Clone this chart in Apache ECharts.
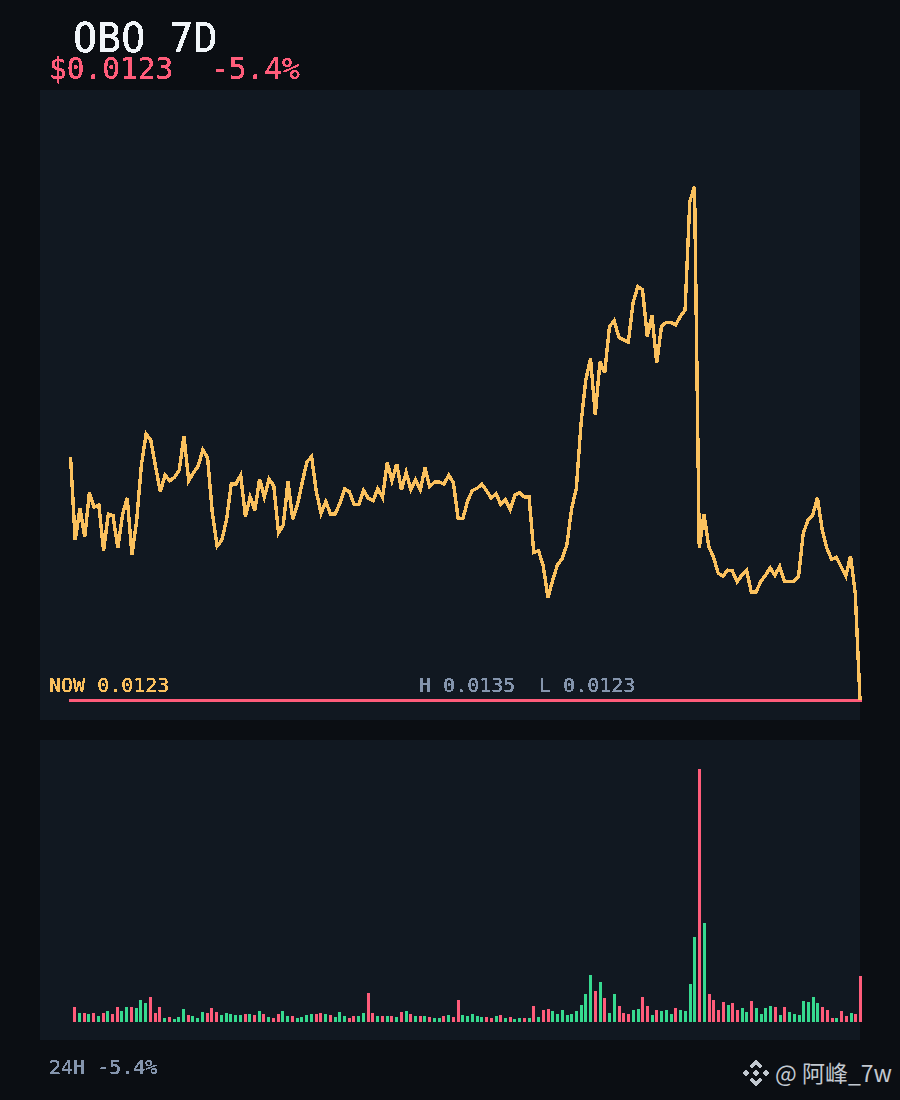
<!DOCTYPE html>
<html>
<head>
<meta charset="utf-8">
<style>
html,body{margin:0;padding:0;background:#0b0e13;}
#chart{width:900px;height:1100px;}
#chart svg path{shape-rendering:crispEdges;}
#chart svg text{filter:url(#crisp);}
#chart svg text[style*="Noto"]{filter:none;}
</style>
<script src="https://cdn.jsdelivr.net/npm/echarts@6/dist/echarts.min.js"></script>
</head>
<body>
<svg width="0" height="0" style="position:absolute"><filter id="crisp" x="-5%" y="-5%" width="110%" height="110%"><feComponentTransfer><feFuncA type="discrete" tableValues="0 1 1 1"/></feComponentTransfer></filter></svg>
<div id="chart"></div>
<script>
var symbolText = 'OBO 7D';
var priceText = '$0.0123';
var changeText = '-5.4%';
var nowText = 'NOW 0.0123';
var highText = 'H 0.0135';
var lowText = 'L 0.0123';
var footerText = '24H -5.4%';
var watermarkText = '@ 阿峰_7w';
var priceMin = 0.0123;
var priceMax = 0.0135;
var volumeMax = 253;

var prices = [
0.012869,0.012674,0.012749,0.012681,0.012785,0.012751,0.012756,0.012649,0.012735,0.012731,
0.012656,0.012733,0.012773,0.012639,0.012721,0.012850,0.012922,0.012907,0.012846,0.012787,
0.012826,0.012813,0.012821,0.012838,0.012917,0.012813,0.012831,0.012847,0.012885,0.012866,
0.012737,0.012660,0.012674,0.012721,0.012805,0.012805,0.012826,0.012729,0.012775,0.012744,
0.012817,0.012775,0.012817,0.012801,0.012691,0.012709,0.012811,0.012723,0.012756,0.012808,
0.012857,0.012869,0.012787,0.012737,0.012764,0.012735,0.012735,0.012761,0.012794,0.012787,
0.012757,0.012757,0.012790,0.012772,0.012766,0.012794,0.012774,0.012855,0.012813,0.012852,
0.012792,0.012832,0.012792,0.012815,0.012792,0.012843,0.012799,0.012810,0.012810,0.012805,
0.012826,0.012808,0.012724,0.012724,0.012766,0.012790,0.012795,0.012805,0.012790,0.012772,
0.012783,0.012757,0.012768,0.012746,0.012779,0.012785,0.012775,0.012775,0.012645,0.012649,
0.012614,0.012539,0.012581,0.012616,0.012631,0.012663,0.012748,0.012795,0.012948,0.013048,
0.013099,0.012967,0.013091,0.013065,0.013173,0.013187,0.013148,0.013142,0.013137,0.013229,
0.013267,0.013259,0.013150,0.013199,0.013088,0.013173,0.013183,0.013183,0.013177,0.013197,
0.013212,0.013466,0.013500,0.012656,0.012735,0.012659,0.012635,0.012597,0.012590,0.012604,
0.012602,0.012577,0.012592,0.012604,0.012553,0.012553,0.012577,0.012592,0.012609,0.012592,
0.012613,0.012578,0.012578,0.012578,0.012590,0.012690,0.012721,0.012733,0.012773,0.012698,
0.012655,0.012629,0.012634,0.012612,0.012590,0.012637,0.012550,0.012300
];

var volumes = [
15,9,9,8,9,6,9,11,8,15,11,15,15,14,22,19,25,9,15,4,
5,3,5,13,7,6,4,10,9,14,10,7,9,8,7,7,8,8,7,11,
8,5,4,8,11,6,6,4,5,7,8,8,9,8,7,5,10,6,4,6,
6,9,29,9,6,6,6,6,5,10,11,8,6,6,6,5,4,4,6,7,
5,22,7,6,8,6,5,5,4,6,7,4,5,3,4,4,4,16,5,12,
13,11,8,12,7,8,11,17,28,47,31,40,24,9,28,16,9,8,12,13,
25,16,7,12,11,12,8,14,12,11,38,85,253,99,28,22,12,20,17,19,
12,14,10,21,14,8,14,16,15,7,15,10,8,7,21,20,25,19,15,12,
4,4,11,6,9,8,46
];

// side of each volume bar, read left to right: r = red, g = green
var volumeSides = [
'r','g','r','g','r','g','r','g','r','r','g','g','r','g','g','g','r','r','r','g',
'r','g','g','g','r','g','g','g','r','r','r','g','g','g','g','g','r','g','r','g',
'r','g','r','r','g','g','r','g','g','g','g','r','r','g','r','g','g','g','r','r',
'g','g','r','r','g','r','g','r','g','r','g','r','g','r','g','r','g','g','r','g',
'r','r','g','g','g','g','g','r','r','g','r','g','r','g','g','r','g','r','g','r',
'r','g','g','g','g','g','g','g','g','g','r','g','r','g','g','r','r','r','g','g',
'r','r','g','r','g','g','g','r','g','g','g','g','r','g','r','r','r','r','g','r',
'r','g','g','r','g','g','g','g','r','g','r','g','g','g','g','g','g','g','r','r',
'r','g','r','r','g','r','r'
];

var colors = {
  page:'#0b0e13', panel:'#111821', line:'#fbc15e', red:'#ff5c7a', green:'#36d98f',
  title:'#f1f5f9', grey:'#8595ad', mark:'#c2c8d0'
};
var mono = '"DejaVu Sans Mono", monospace';

function label(text,x,y,size,color,family){
  return {type:'text',x:x,y:y,z:10,style:{text:text,fill:color,font:size+'px '+(family||mono),textVerticalAlign:'middle',textBaseline:'middle'}};
}
function diamond(cx,cy,r){
  return {type:'polygon',z:10,shape:{points:[[cx,cy-r],[cx+r,cy],[cx,cy+r],[cx-r,cy]]},style:{fill:colors.mark}};
}
function chevron(cx,cy,s){
  return {type:'polygon',z:10,shape:{points:[[cx,cy-13.5*s],[cx+6.6,cy-6.9*s],[cx+3.9,cy-4.2*s],[cx,cy-8.1*s],[cx-3.9,cy-4.2*s],[cx-6.6,cy-6.9*s]]},style:{fill:colors.mark}};
}

var chart = echarts.init(document.getElementById('chart'),null,{renderer:'svg',width:900,height:1100});
chart.setOption({
  animation:false,
  backgroundColor:colors.page,
  graphic:[
    {type:'rect',z:-10,shape:{x:40,y:90,width:820,height:630},style:{fill:colors.panel}},
    {type:'rect',z:-10,shape:{x:40,y:740,width:820,height:300},style:{fill:colors.panel}},
    label(symbolText,73,38,40,colors.title),
    label(priceText,49,69,29.5,colors.red),
    label(changeText,211,69,29.5,colors.red),
    label(nowText,49,685,20,colors.line),
    label(highText,419,685,20,colors.grey),
    label(lowText,539,685,20,colors.grey),
    label(footerText,49,1067,20,colors.grey),
    label(watermarkText,775,1072,23,colors.mark,'"Noto Sans CJK SC", sans-serif'),
    chevron(756,1073,1),chevron(756,1073,-1),
    diamond(746.2,1073,3.5),diamond(765.8,1073,3.5),diamond(756,1073,3.5)
  ],
  grid:[
    {left:70.5,right:40,top:186.7,height:513.5},
    {left:74.6,right:39.4,top:769,height:253}
  ],
  xAxis:[
    {type:'category',gridIndex:0,boundaryGap:false,show:false,data:prices.map(function(_,i){return i;})},
    {type:'category',gridIndex:1,boundaryGap:false,show:false,data:volumes.map(function(_,i){return i;})}
  ],
  yAxis:[
    {type:'value',gridIndex:0,min:priceMin,max:priceMax,show:false},
    {type:'value',gridIndex:1,min:0,max:volumeMax,show:false}
  ],
  series:[
    {type:'line',xAxisIndex:0,yAxisIndex:0,z:1,clip:false,showSymbol:false,silent:true,
     data:prices.map(function(){return priceMin;}),
     lineStyle:{color:colors.red,width:3,cap:'square'}},
    {type:'line',xAxisIndex:0,yAxisIndex:0,z:2,clip:false,data:prices,showSymbol:false,silent:true,
     lineStyle:{color:colors.line,width:3.4,join:'miter'}},
    {type:'bar',xAxisIndex:1,yAxisIndex:1,barWidth:3,silent:true,
     data:volumes.map(function(v,i){
       return {value:v,itemStyle:{color:volumeSides[i]==='r'?colors.red:colors.green}};
     })}
  ]
});
</script>
</body>
</html>
